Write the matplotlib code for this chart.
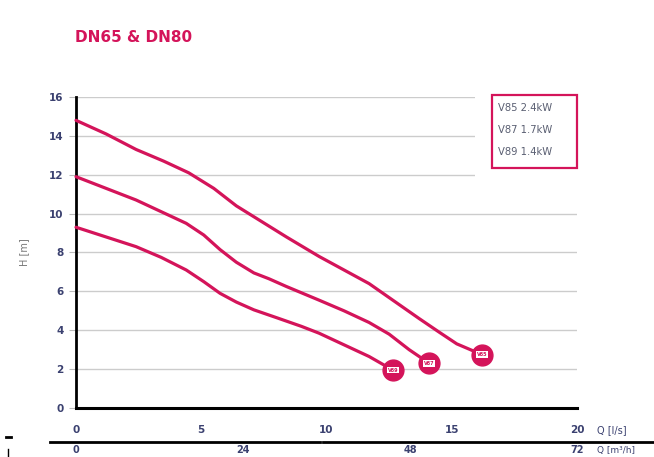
import matplotlib
matplotlib.use("Agg")
import matplotlib.pyplot as plt
from matplotlib.patches import Rectangle
from matplotlib.lines import Line2D
import matplotlib.transforms as mtransforms

# pump curves, Q in l/s, H in m
q_v85 = [0, 1.2, 2.4, 3.5, 4.5, 5.5, 6.4, 7.4, 8.4, 9.7, 10.7, 11.7, 12.7, 13.7, 14.5, 15.2, 16.2]
h_v85 = [14.8, 14.1, 13.3, 12.7, 12.1, 11.3, 10.4, 9.6, 8.8, 7.8, 7.1, 6.4, 5.5, 4.6, 3.9, 3.3, 2.75]

q_v87 = [0, 1.2, 2.4, 3.4, 4.4, 5.1, 5.75, 6.4, 7.1, 7.7, 8.4, 9.7, 10.7, 11.7, 12.5, 13.3, 14.1]
h_v87 = [11.9, 11.3, 10.7, 10.1, 9.5, 8.9, 8.15, 7.5, 6.95, 6.65, 6.25, 5.55, 5.0, 4.4, 3.8, 3.0, 2.3]

q_v89 = [0, 1.2, 2.4, 3.4, 4.4, 5.1, 5.75, 6.4, 7.1, 8.0, 9.0, 9.7, 10.7, 11.7, 12.65]
h_v89 = [9.3, 8.8, 8.3, 7.75, 7.1, 6.5, 5.9, 5.45, 5.05, 4.65, 4.2, 3.85, 3.25, 2.65, 1.95]

curve_names = ["V85", "V87", "V89"]
legend_lines = ["V85 2.4kW", "V87 1.7kW", "V89 1.4kW"]

x_ticks = [0, 5, 10, 15, 20]
y_ticks = [0, 2, 4, 6, 8, 10, 12, 14, 16]
m3h_ticks = [0, 24, 48, 72]

red = "#d4145a"
tick_col = "#3b4170"

fig = plt.figure(figsize=(6.54, 4.57), dpi=100)
ax = fig.add_axes([76 / 654, 1 - 408 / 457, 501 / 654, 311 / 457])

ax.set_xlim(0, 20)
ax.set_ylim(0, 16)
ax.set_xticks(x_ticks)
ax.set_yticks(y_ticks)
ax.grid(axis="y", color="#cccccc", lw=1)
ax.set_axisbelow(True)
for s in ["top", "right"]:
    ax.spines[s].set_visible(False)
ax.spines["left"].set_linewidth(2)
ax.spines["bottom"].set_linewidth(2.2)
ax.tick_params(axis="x", length=0, pad=12, labelsize=7.5, labelcolor=tick_col)
ax.tick_params(axis="y", length=5, color="#bbbbbb", pad=4, labelsize=7.5, labelcolor=tick_col)
for lab in ax.get_xticklabels() + ax.get_yticklabels():
    lab.set_fontweight("bold")

ax.set_ylabel("H [m]", fontsize=7, color="#777777", labelpad=14)

curves = [(q_v85, h_v85), (q_v87, h_v87), (q_v89, h_v89)]
for (q, h), name in zip(curves, curve_names):
    ax.plot(q, h, color=red, lw=2.3, solid_capstyle="round", solid_joinstyle="round",
            zorder=3, clip_on=False)
    ax.plot(q[-1], h[-1], "o", color=red, ms=15, zorder=4, clip_on=False)
    ax.text(q[-1], h[-1], name, color=red, fontsize=3.5, fontweight="bold",
            ha="center", va="center", zorder=5,
            bbox=dict(boxstyle="square,pad=0.15", fc="white", ec="none"))

# legend box
ax.add_patch(Rectangle((0.796, 0.74), 0.21, 0.275, transform=ax.transAxes,
                       fc="white", ec="none", zorder=2, clip_on=False))
ax.add_patch(Rectangle((0.830, 0.772), 0.170, 0.234, transform=ax.transAxes,
                       fc="none", ec=red, lw=1.6, zorder=6, clip_on=False))
for txt, yy in zip(legend_lines, [0.965, 0.894, 0.822]):
    ax.text(0.843, yy, txt, transform=ax.transAxes, fontsize=7.2, color="#5a5f72",
            ha="left", va="center", zorder=7)

# title
fig.text(75 / 654, 1 - 38 / 457, "DN65 & DN80", color=red, fontsize=11,
         fontweight="bold", ha="left", va="center")

# axis labels on the right
fig.text(597 / 654, 1 - 430 / 457, "Q [l/s]", fontsize=7, color=tick_col, ha="left", va="center")
fig.text(597 / 654, 1 - 450 / 457, "Q [m\u00b3/h]", fontsize=6.5, color=tick_col, ha="left", va="center")

# second scale in m3/h
trans = mtransforms.blended_transform_factory(ax.transData, fig.transFigure)
for v in m3h_ticks:
    fig.text(v / 3.6, 1 - 450 / 457, str(v), transform=trans, fontsize=7,
             fontweight="bold", color=tick_col, ha="center", va="center")
fig.add_artist(Line2D([50 / 654, 320 / 654], [1 - 442 / 457] * 2, color="black", lw=2))
fig.add_artist(Line2D([323 / 654, 1.0], [1 - 442 / 457] * 2, color="black", lw=2))
fig.add_artist(Line2D([6 / 654, 11 / 654], [1 - 437 / 457] * 2, color="black", lw=2))
fig.add_artist(Line2D([8 / 654, 8 / 654], [1 - 449 / 457, 0.0], color="black", lw=1))

fig.savefig("out.png", dpi=100, facecolor="white")
